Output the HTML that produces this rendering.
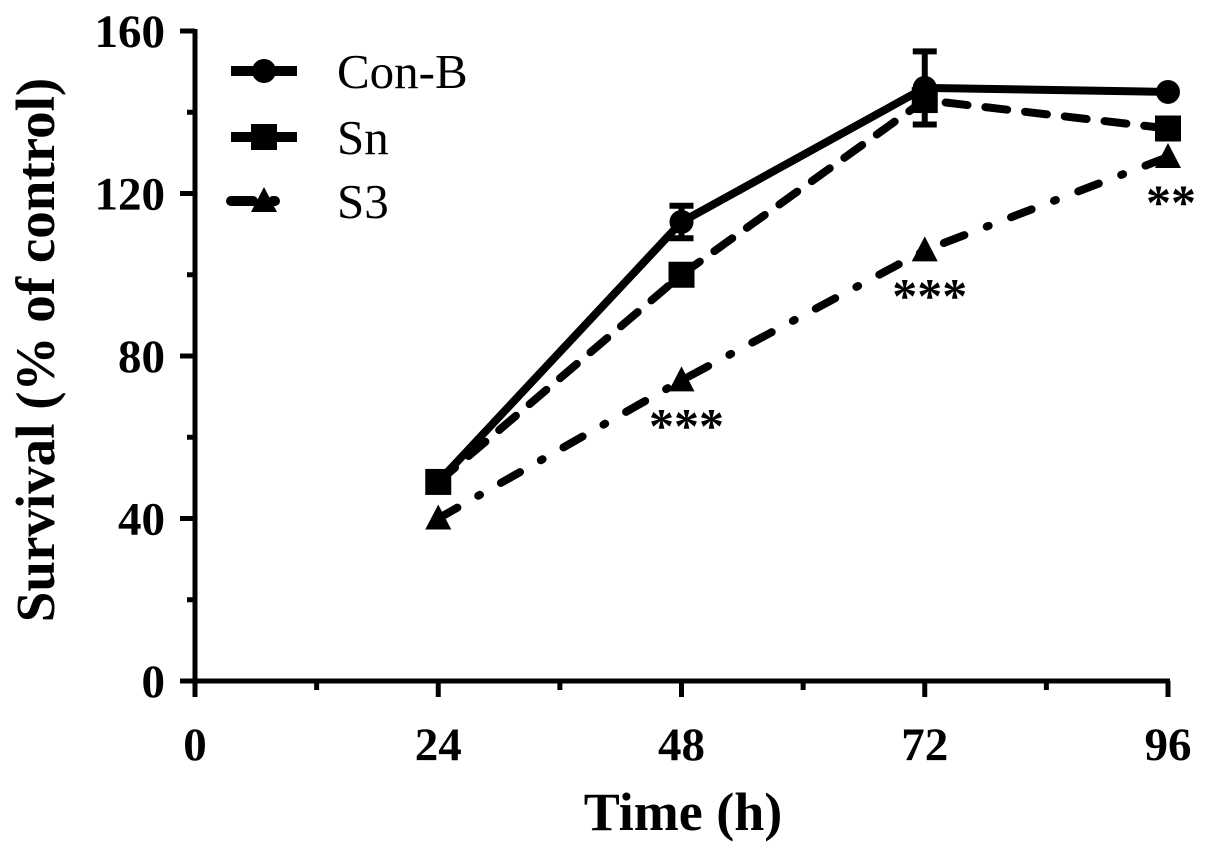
<!DOCTYPE html>
<html><head><meta charset="utf-8"><style>
html,body{margin:0;padding:0;background:#fff;}
svg text{font-family:"Liberation Serif",serif;}
</style></head><body>
<svg id="chart" width="1205" height="849" viewBox="0 0 1205 849" xmlns="http://www.w3.org/2000/svg"></svg>
<script>
const categories=[24,48,72,96];
const conB=[49,113,146,145];
const conBErr=[0,4,9,0];
const sn=[49,100,143,136];
const s3=[40,74,106,129];
const sig=["","***","***","**"];
const xTicks=[0,24,48,72,96];
const yTicks=[0,40,80,120,160];

const NS="http://www.w3.org/2000/svg";
const svg=document.getElementById('chart');
const X=v=>195+v*(1168-195)/96;
const Y=v=>681-v*(681-31)/160;
function el(t,a,p){const e=document.createElementNS(NS,t);for(const k in a)e.setAttribute(k,a[k]);(p||svg).appendChild(e);return e;}

const axes=el('g',{});


el('line',{x1:195,y1:29,x2:195,y2:683,stroke:'#000','stroke-width':5},axes);
el('line',{x1:193,y1:681,x2:1170,y2:681,stroke:'#000','stroke-width':5},axes);
yTicks.forEach(v=>{
  el('line',{x1:180,y1:Y(v),x2:195,y2:Y(v),stroke:'#000','stroke-width':5},axes);
  const t=el('text',{x:165,y:Y(v)+16,'text-anchor':'end','font-size':47,'font-weight':'bold'},axes);
  t.textContent=v;
  
  
});
for(let i=0;i<yTicks.length-1;i++){const v=(yTicks[i]+yTicks[i+1])/2;el('line',{x1:187,y1:Y(v),x2:195,y2:Y(v),stroke:'#000','stroke-width':5},axes);}
xTicks.forEach(v=>{
  el('line',{x1:X(v),y1:681,x2:X(v),y2:697,stroke:'#000','stroke-width':5},axes);
  const t=el('text',{x:X(v),y:760,'text-anchor':'middle','font-size':47,'font-weight':'bold'},axes);
  t.textContent=v;
  
  
});
for(let i=0;i<xTicks.length-1;i++){const v=(xTicks[i]+xTicks[i+1])/2;el('line',{x1:X(v),y1:681,x2:X(v),y2:690,stroke:'#000','stroke-width':5},axes);}
const xt=el('text',{x:683,y:830,'text-anchor':'middle','font-size':54,'font-weight':'bold'});
xt.textContent='Time (h)';


const yt=el('text',{x:0,y:0,transform:'translate(54,350) rotate(-90)','text-anchor':'middle','font-size':55,'font-weight':'bold'});
yt.textContent='Survival (% of control)';



function marker(type,cx,cy,g){
  if(type==='c')return el('circle',{cx:cx,cy:cy,r:12,fill:'#000'},g);
  if(type==='s')return el('rect',{x:cx-13,y:cy-13,width:26,height:26,fill:'#000'},g);
  return el('polygon',{points:`${cx},${cy-14} ${cx-13},${cy+11} ${cx+13},${cy+11}`,fill:'#000'},g);
}
function series(name,vals,dash,type){
  const g=el('g',{});
  
  
  const pts=vals.map((v,i)=>X(categories[i])+','+Y(v)).join(' ');
  const a={points:pts,fill:'none',stroke:'#000','stroke-width':8,'stroke-linecap':'round'};
  if(dash)a['stroke-dasharray']=dash;
  el('polyline',a,g);
  vals.forEach((v,i)=>{const m=marker(type,X(categories[i]),Y(v),g);
    
    });
  return g;
}
const eb=el('g',{});


conB.forEach((v,i)=>{const e=conBErr[i];if(!e)return;const x=X(categories[i]);
  el('line',{x1:x,y1:Y(v+e),x2:x,y2:Y(v-e),stroke:'#000','stroke-width':6},eb);
  el('line',{x1:x-12,y1:Y(v+e),x2:x+12,y2:Y(v+e),stroke:'#000','stroke-width':6},eb);
  el('line',{x1:x-12,y1:Y(v-e),x2:x+12,y2:Y(v-e),stroke:'#000','stroke-width':6},eb);});
series('s3-series',s3,'22 24 2 24','t');
series('sn-series',sn,'22 18','s');
series('conb-series',conB,null,'c');
sig.forEach((s,i)=>{if(!s)return;
  const t=el('text',{x:X(categories[i])+(i===3?3:5),y:Y(s3[i])+62,'text-anchor':'middle','font-size':50,'font-weight':'bold'});
  t.textContent=s;
  
  });

const leg=el('g',{});


[['Con-B','c',null,71],['Sn','s',null,137],['S3','t','22 24 2 24',201]].forEach(r=>{
  const g=el('g',{},leg);
  
  
  const a={x1:231,y1:r[3],x2:297,y2:r[3],stroke:'#000','stroke-width':10};
  if(r[0]==='S3'){a['stroke-dasharray']='22 20 2 30';a['stroke-linecap']='round';}
  el('line',a,g);
  marker(r[1],264,r[3],g);
  const t=el('text',{x:337,y:r[3]+17,'font-size':49},g);
  t.textContent=r[0];
});
</script>
</body></html>
